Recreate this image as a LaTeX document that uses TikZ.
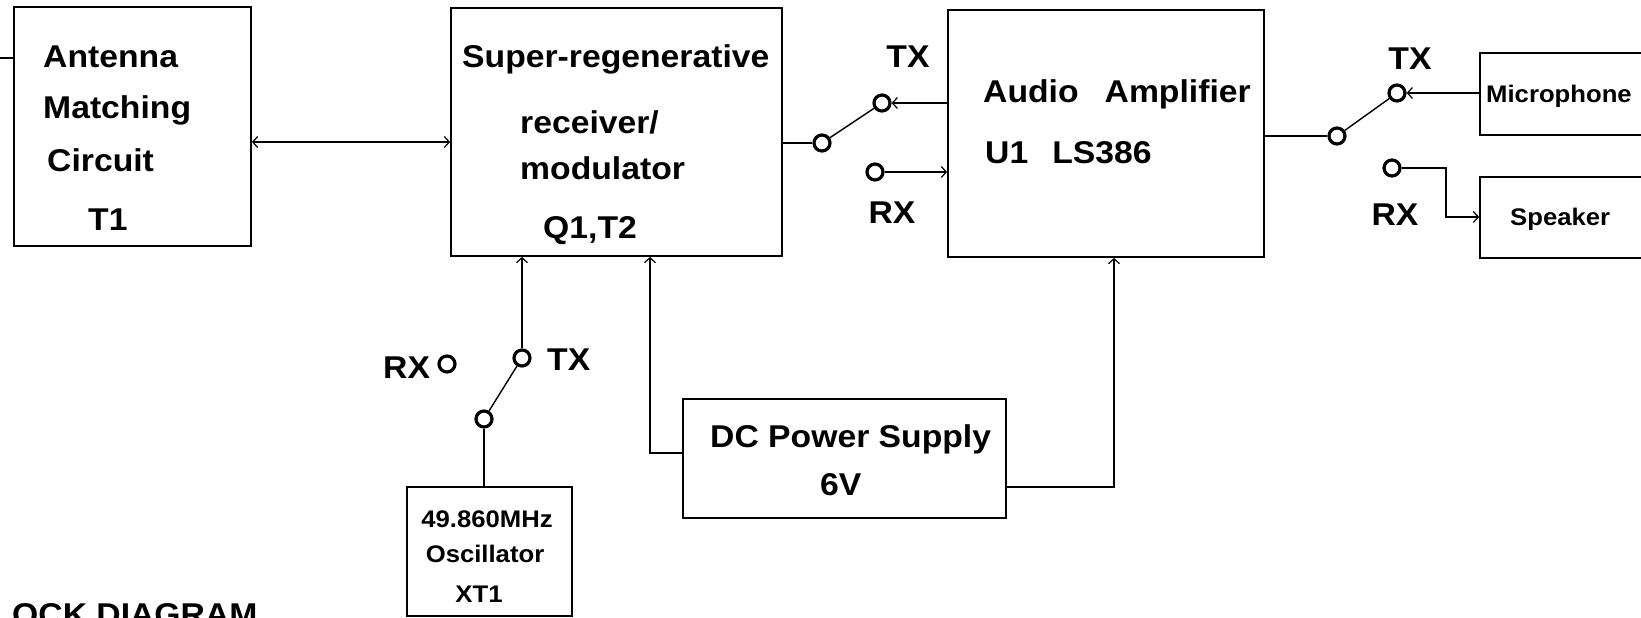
\documentclass[tikz,border=0pt]{standalone}
\usepackage{fontspec}
\setmainfont{Liberation Sans}[FakeStretch=1.07]
\usetikzlibrary{arrows.meta,fit}
\begin{document}
\begin{tikzpicture}[x=1pt,y=-1pt,
  box/.style={draw, line width=1.8pt, inner sep=0pt},
  txt/.style={inner sep=0pt, font=\fontsize{31.5}{36}\selectfont\bfseries},
  smalltxt/.style={inner sep=0pt, font=\fontsize{24}{28}\selectfont\bfseries},
  term/.style={circle, draw, line width=3.2pt, minimum size=16pt, inner sep=0pt},
  wire/.style={line width=1.4pt},
  arr/.style={wire, -{Straight Barb[length=5pt,width=11pt,line width=1.2pt]}},
  biarr/.style={wire, {Straight Barb[length=5pt,width=11pt,line width=1.2pt]}-{Straight Barb[length=5pt,width=11pt,line width=1.2pt]}}]
\useasboundingbox (0,0) rectangle (1641,618);
\clip (0,0) rectangle (1641,618);
\fill[white] (0,0) rectangle (1641,618);

% boxes
\node[box, fit={(14,7) (251,246)}] (ant) {};
\node[box, fit={(451,8) (782,256)}] (sup) {};
\node[box, fit={(948,10) (1264,257)}] (aud) {};
\node[box, fit={(1480,53) (1670,135)}] (mic) {};
\node[box, fit={(1480,177) (1670,258)}] (spk) {};
\node[box, fit={(407,487) (572,616)}] (osc) {};
\node[box, fit={(683,399) (1006,518)}] (dc) {};

% box texts
\node[txt, anchor=base west] (a1) at (43,67) {Antenna};
\node[txt, anchor=base west] (a2) at (43,118) {Matching};
\node[txt, anchor=base west] (a3) at (47,171) {Circuit};
\node[txt, anchor=base west] (a4) at (88,230) {T1};

\node[txt, anchor=base west] (b1) at (462,67) {Super-regenerative};
\node[txt, anchor=base west] (b2) at (520,133) {receiver/};
\node[txt, anchor=base west] (b3) at (520,179) {modulator};
\node[txt, anchor=base west] (b4) at (543,238) {Q1,T2};

\node[txt, anchor=base west] (c1) at (983,102) {Audio\hspace{26pt}Amplifier};
\node[txt, anchor=base west] (c2) at (985,163) {U1\hspace{24pt}LS386};

\node[smalltxt, anchor=base west] (m1) at (1486,102) {Microphone};
\node[smalltxt, anchor=base west] (k1) at (1510,225) {Speaker};

\node[smalltxt, anchor=base] (o1) at (487,527) {49.860MHz};
\node[smalltxt, anchor=base] (o2) at (485,562) {Oscillator};
\node[smalltxt, anchor=base] (o3) at (479,602) {XT1};

\node[txt, anchor=base west] (d1) at (710,447) {DC Power Supply};
\node[txt, anchor=base west] (d2) at (820,495) {6V};

\node[txt, anchor=base west] (title) at (12,625) {OCK DIAGRAM};

% antenna stub and RF link
\coordinate (antin) at (0,58);
\draw[wire] (antin) -- (antin -| ant.west);
\coordinate (rf) at (350,142);
\draw[biarr] (rf -| ant.east) -- (rf -| sup.west);

% switch 1
\node[term] (s1p) at (822,143) {};
\node[term] (s1t) at (882,103) {};
\node[term] (s1r) at (875,172) {};
\draw[wire] (s1p -| sup.east) -- (s1p);
\draw[wire] (s1p) -- (s1t);
\draw[arr] (s1t -| aud.west) -- (s1t);
\draw[arr] (s1r) -- (s1r -| aud.west);
\node[txt, anchor=base] (s1tl) at (908,67) {TX};
\node[txt, anchor=base] (s1rl) at (892,223) {RX};

% switch 2
\node[term] (s2p) at (1337,136) {};
\node[term] (s2t) at (1397,93) {};
\node[term] (s2r) at (1392,168) {};
\draw[wire] (s2p -| aud.east) -- (s2p);
\draw[wire] (s2p) -- (s2t);
\draw[arr] (s2t -| mic.west) -- (s2t);
\coordinate (s2k) at (1446,217);
\draw[arr] (s2r) -- (s2r -| s2k) -- (s2k) -- (s2k -| spk.west);
\node[txt, anchor=base] (s2tl) at (1410,70) {TX};
\node[txt, anchor=base] (s2rl) at (1395,225) {RX};

% switch 3
\node[term] (s3p) at (484,419) {};
\node[term] (s3t) at (522,358) {};
\node[term] (s3r) at (447,364) {};
\draw[wire] (s3p) -- (s3t);
\draw[arr] (s3t) -- (s3t |- sup.south);
\draw[wire] (s3p) -- (s3p |- osc.north);
\node[txt, anchor=base west] (s3tl) at (547,370) {TX};
\node[txt, anchor=base west] (s3rl) at (383,378) {RX};

% power
\coordinate (dcl) at (650,453);
\draw[arr] (dcl -| dc.west) -- (dcl) -- (dcl |- sup.south);
\coordinate (dcr) at (1114,487);
\draw[arr] (dcr -| dc.east) -- (dcr) -- (dcr |- aud.south);
\end{tikzpicture}
\end{document}
